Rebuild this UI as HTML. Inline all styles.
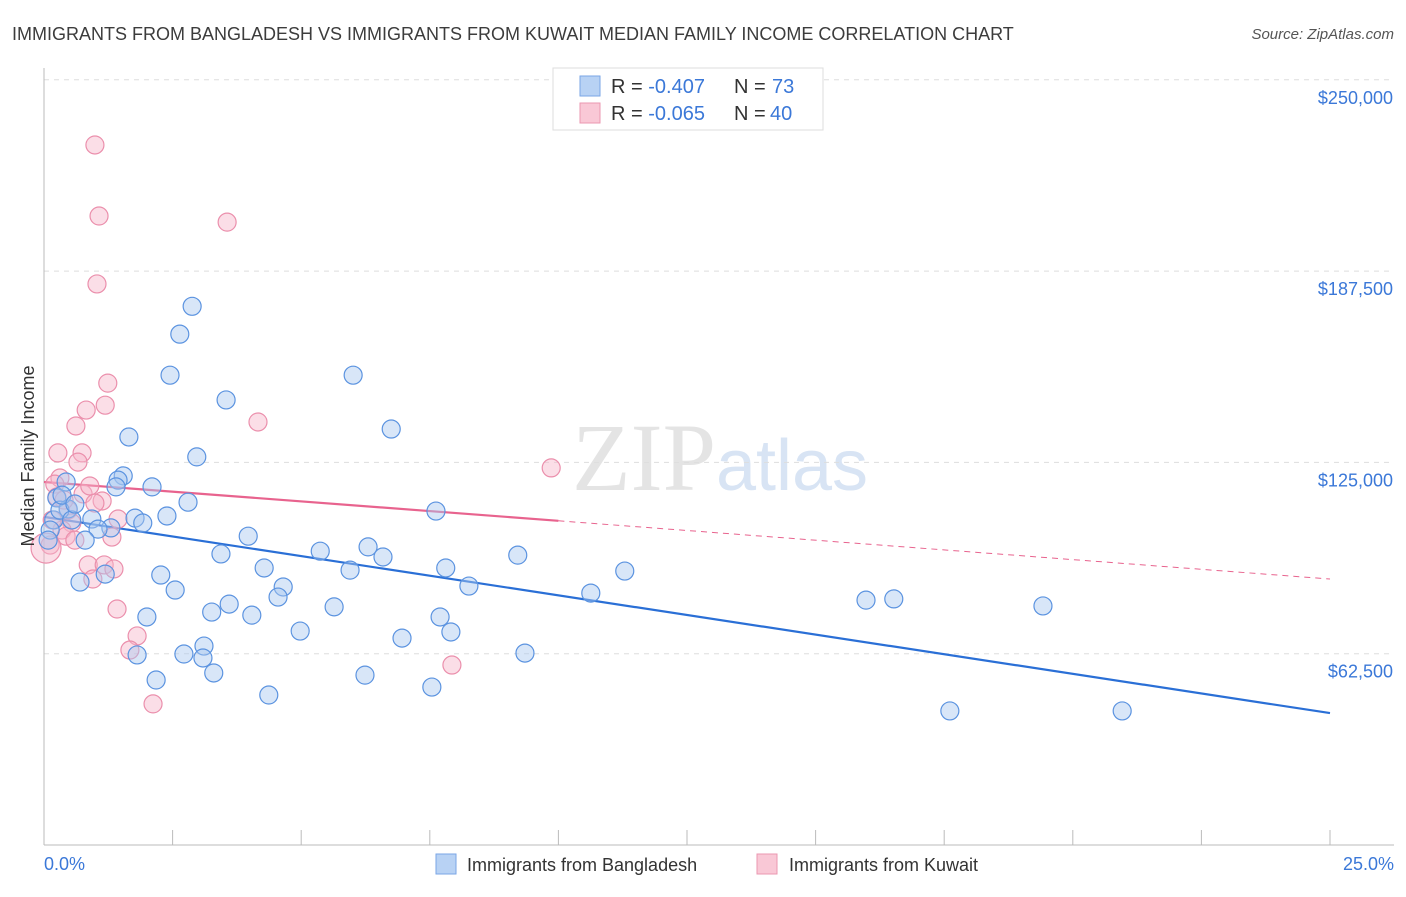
<!DOCTYPE html>
<html><head><meta charset="utf-8"><style>
body{margin:0;background:#fff;font-family:"Liberation Sans",Arial,sans-serif;}
</style></head><body>
<svg id="chart" width="1406" height="892" xmlns="http://www.w3.org/2000/svg" font-family="Liberation Sans, Arial, sans-serif">
<text x="12" y="40" font-size="18" fill="#3c3c3c">IMMIGRANTS FROM BANGLADESH VS IMMIGRANTS FROM KUWAIT MEDIAN FAMILY INCOME CORRELATION CHART</text>
<text x="1394" y="39" font-size="15" fill="#555" text-anchor="end" font-style="italic">Source: ZipAtlas.com</text>
<text x="720" y="490" font-size="96" fill="#e4e4e4" text-anchor="middle" font-family="Liberation Serif, serif">ZIP<tspan fill="#d8e4f4" font-family="Liberation Sans, sans-serif" font-size="72">atlas</tspan></text>
<g id="grid"></g>
<g id="axes"></g>
<g id="lines"></g>
<g id="points"></g>
<text transform="translate(34,456) rotate(-90)" font-size="18" fill="#333" text-anchor="middle">Median Family Income</text>
<text x="44" y="870" font-size="18" fill="#3b78d8">0.0%</text>
<text x="1394" y="870" font-size="18" fill="#3b78d8" text-anchor="end">25.0%</text>
<g>
<rect x="553" y="68" width="270" height="62" fill="#fff" stroke="#ddd"/>
<rect x="580" y="76" width="20" height="20" fill="#b8d2f4" stroke="#7aa6e6"/>
<rect x="580" y="103" width="20" height="20" fill="#f9c8d6" stroke="#eb97b0"/>
<text x="611" y="93" font-size="20" fill="#333">R = <tspan fill="#3b78d8">-0.407</tspan><tspan x="734">N = </tspan><tspan fill="#3b78d8" x="772">73</tspan></text>
<text x="611" y="120" font-size="20" fill="#333">R = <tspan fill="#3b78d8">-0.065</tspan><tspan x="734">N = </tspan><tspan fill="#3b78d8" x="770">40</tspan></text>
</g>
<g>
<rect x="436" y="854" width="20" height="20" fill="#b8d2f4" stroke="#7aa6e6"/>
<text x="467" y="871" font-size="18" fill="#333">Immigrants from Bangladesh</text>
<rect x="757" y="854" width="20" height="20" fill="#f9c8d6" stroke="#eb97b0"/>
<text x="789" y="871" font-size="18" fill="#333">Immigrants from Kuwait</text>
</g>
</svg>
<script>
const yTicks=[62500,125000,187500,250000];
const yTickLabels=["$62,500","$125,000","$187,500","$250,000"];
const xTicks=[0,2.5,5,7.5,10,12.5,15,17.5,20,22.5,25];
const blueX=[2.88,2.64,2.45,6.01,3.54,6.75,1.65,2.97,1.54,1.44,2.10,1.40,0.43,2.80,0.25,7.62,0.47,0.93,1.77,2.39,1.92,0.19,1.30,1.05,0.80,3.97,3.44,5.37,6.30,6.59,9.21,4.28,5.95,7.81,11.29,2.27,1.19,0.70,4.65,8.26,2.55,4.55,10.63,15.98,16.52,19.42,3.60,5.64,3.26,4.04,2.00,7.70,4.98,7.91,6.96,3.11,2.72,1.81,3.09,9.35,3.30,6.24,2.18,7.54,4.37,17.61,20.96,0.31,0.12,0.35,0.54,0.08,0.60];
const blueY=[176.0,166.9,153.5,153.5,145.4,135.9,133.3,126.8,120.6,119.2,117.0,117.0,118.6,112.0,113.4,109.1,109.8,106.5,106.8,107.5,105.2,106.2,103.6,103.2,99.6,100.9,95.1,96.0,97.4,94.1,94.7,90.5,89.8,90.5,89.5,88.2,88.5,85.9,84.3,84.6,83.3,81.0,82.3,80.0,80.4,78.1,78.7,77.8,76.1,75.1,74.5,74.5,69.9,69.6,67.6,65.0,62.4,62.1,61.1,62.7,56.2,55.5,53.9,51.6,49.0,43.8,43.8,109.4,102.9,114.3,106.2,99.6,111.4];
const pinkX=[0.99,1.07,3.56,1.03,1.24,1.19,0.82,4.16,0.62,9.86,0.27,0.74,0.66,0.31,0.21,0.76,0.25,1.13,0.99,0.47,1.44,0.54,0.35,0.43,1.32,0.12,0.86,1.17,1.36,0.95,1.42,1.81,1.67,7.93,2.12,0.16,0.60,0.04,0.39,0.89];
const pinkY=[228.7,205.5,203.5,183.3,150.9,143.7,142.1,138.2,136.9,123.2,128.1,128.1,125.1,119.9,117.9,114.7,113.7,112.4,111.7,109.4,106.5,105.2,102.9,100.9,100.6,98.0,91.5,91.5,90.2,86.9,77.1,68.3,63.7,58.8,46.1,106.2,99.6,97.0,112.7,117.3];
const blueTrend=[107.2,43.1];
const pinkTrend=[118.6,86.9];
const pinkSolidEnd=10;
const NS="http://www.w3.org/2000/svg";
const X=v=>44+v/25*1286;
const Y=v=>845-v/62.5*191.3;
function mk(t,a,p){const e=document.createElementNS(NS,t);for(const k in a)e.setAttribute(k,a[k]);p.appendChild(e);return e;}
const grid=document.getElementById('grid'),axes=document.getElementById('axes'),lines=document.getElementById('lines'),pts=document.getElementById('points');
yTicks.forEach((v,i)=>{
 const l=mk('line',{x1:44,x2:1394,y1:Y(v/1000),y2:Y(v/1000),stroke:'#ddd','stroke-dasharray':'5,5'},grid);
 
 
 const t=mk('text',{x:1393,y:Y(v/1000)+24,'font-size':18,fill:'#3b78d8','text-anchor':'end'},grid);
 t.textContent=yTickLabels[i];
 
 
});
const ya=mk('line',{x1:44,x2:44,y1:68,y2:845,stroke:'#bbb'},axes);


const xa=mk('line',{x1:44,x2:1394,y1:845,y2:845,stroke:'#bbb'},axes);


xTicks.forEach(v=>{
 const t=mk('line',{x1:X(v),x2:X(v),y1:830,y2:845,stroke:'#bbb'},axes);
 
 
});
function circles(xs,ys,fill,stroke,name){
 xs.forEach((x,i)=>{
  const c=mk('circle',{cx:X(x),cy:Y(ys[i]),r:(x<0.1&&name==='kuwait-point')?15:9,fill:fill,'fill-opacity':0.45,stroke:stroke,'stroke-width':1.2},pts);
  
  
 });
}
circles(pinkX,pinkY,'#f7b6c9','#eb8fac','kuwait-point');
circles(blueX,blueY,'#a9c8f0','#5b93e0','bangladesh-point');
const bl=mk('line',{x1:X(0),y1:Y(blueTrend[0]),x2:X(25),y2:Y(blueTrend[1]),stroke:'#2a6fd6','stroke-width':2.2},lines);


const pAt=x=>pinkTrend[0]+(pinkTrend[1]-pinkTrend[0])*x/25;
const pl=mk('line',{x1:X(0),y1:Y(pAt(0)),x2:X(pinkSolidEnd),y2:Y(pAt(pinkSolidEnd)),stroke:'#e8638e','stroke-width':2.2},lines);


const pd=mk('line',{x1:X(pinkSolidEnd),y1:Y(pAt(pinkSolidEnd)),x2:X(25),y2:Y(pAt(25)),stroke:'#e8638e','stroke-width':1,'stroke-dasharray':'6,5'},lines);


</script>
</body></html>
